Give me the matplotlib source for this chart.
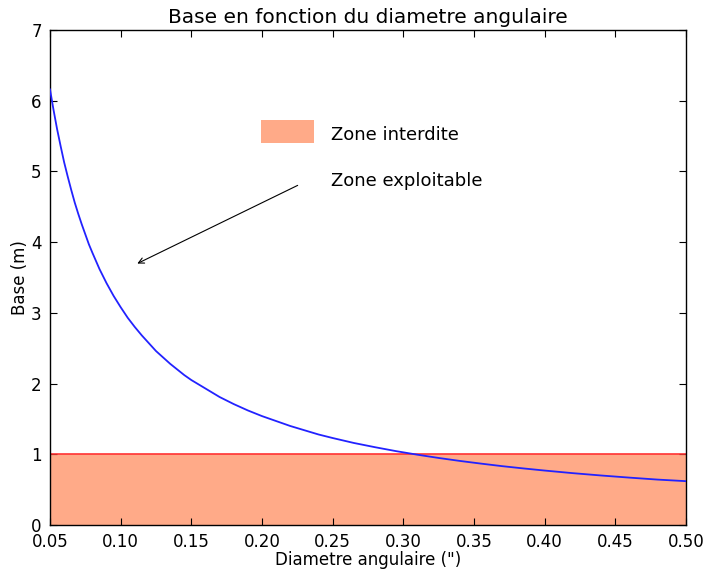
import matplotlib
matplotlib.use("Agg")
import matplotlib.pyplot as plt
from matplotlib.patches import Rectangle

# Values
diam = [0.050, 0.0525, 0.055, 0.0575, 0.060, 0.0625, 0.065, 0.0675, 0.070, 0.0725,
        0.075, 0.0775, 0.080, 0.085, 0.090, 0.095, 0.100, 0.105, 0.110, 0.115,
        0.120, 0.125, 0.130, 0.135, 0.140, 0.145, 0.150, 0.160, 0.170, 0.180,
        0.190, 0.200, 0.210, 0.220, 0.230, 0.240, 0.250, 0.265, 0.280, 0.295,
        0.310, 0.325, 0.340, 0.355, 0.370, 0.385, 0.400, 0.420, 0.440, 0.460,
        0.480, 0.500]
base = [6.16, 5.87, 5.60, 5.36, 5.13, 4.93, 4.74, 4.56, 4.40, 4.25,
        4.11, 3.97, 3.85, 3.62, 3.42, 3.24, 3.08, 2.93, 2.80, 2.68,
        2.57, 2.46, 2.37, 2.28, 2.20, 2.12, 2.05, 1.93, 1.81, 1.71,
        1.62, 1.54, 1.47, 1.40, 1.34, 1.28, 1.23, 1.16, 1.10, 1.044,
        0.994, 0.948, 0.906, 0.868, 0.832, 0.800, 0.770, 0.733, 0.700, 0.670,
        0.642, 0.620]
seuil = 1.0
xticks = [0.05, 0.10, 0.15, 0.20, 0.25, 0.30, 0.35, 0.40, 0.45, 0.50]
yticks = [0, 1, 2, 3, 4, 5, 6, 7]
fill_color = "#FFAA88"

fig = plt.figure(figsize=(7.05, 5.70), dpi=100, facecolor="white")
ax = fig.add_axes([50/705, 45/570, 636/705, 495/570])

ax.axhspan(0, seuil, facecolor=fill_color, edgecolor="none", zorder=1)
ax.axhline(seuil, color="#ff3333", lw=1.2, zorder=2)
ax.plot(diam, base, color="#2222ff", lw=1.3, zorder=3, solid_joinstyle="round")

ax.set_xlim(0.05, 0.50)
ax.set_ylim(0, 7)
ax.set_xticks(xticks)
ax.set_xticklabels([f"{v:.2f}" for v in xticks])
ax.set_yticks(yticks)
ax.tick_params(direction="in", top=True, right=True, length=5, labelsize=12, pad=6)
for s in ax.spines.values():
    s.set_linewidth(1.0)

ax.set_title("Base en fonction du diametre angulaire", fontsize=14.5, pad=5)
ax.set_xlabel('Diametre angulaire (")', fontsize=12, labelpad=0)
ax.set_ylabel("Base (m)", fontsize=12, labelpad=1.5)

# legend-like key for the forbidden zone
ax.add_patch(Rectangle((0.3318, 0.7717), 0.0833, 0.0465, transform=ax.transAxes,
                       facecolor=fill_color, edgecolor="none", zorder=4))
ax.text(0.4418, 0.788, "Zone interdite", transform=ax.transAxes, fontsize=13,
        ha="left", va="center")
ax.text(0.4418, 0.695, "Zone exploitable", transform=ax.transAxes, fontsize=13,
        ha="left", va="center")
ax.annotate("", xy=(0.110, 3.68), xytext=(0.227, 4.82),
            arrowprops=dict(arrowstyle="->", color="black", lw=0.8))

fig.savefig("out.png", dpi=100, facecolor="white")
